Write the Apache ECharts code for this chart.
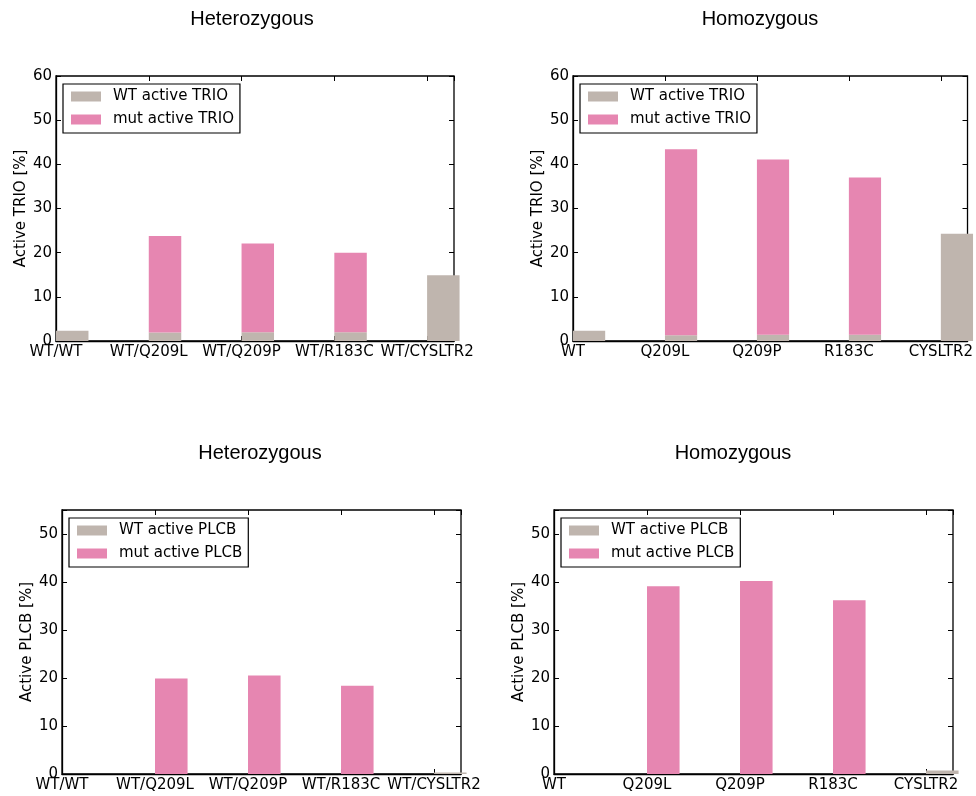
<!DOCTYPE html>
<html>
<head>
<meta charset="utf-8">
<script src="https://cdn.jsdelivr.net/npm/echarts@6/dist/echarts.min.js"></script>
<style>
html, body { margin: 0; padding: 0; background: #fff; }
#chart { width: 976px; height: 796px; }
</style>
</head>
<body>
<div id="chart"></div>
<script>
// ---- data ----
const categoriesHet = ['WT/WT', 'WT/Q209L', 'WT/Q209P', 'WT/R183C', 'WT/CYSLTR2'];
const categoriesHom = ['WT', 'Q209L', 'Q209P', 'R183C', 'CYSLTR2'];

const trioHetWT  = [2.3, 1.9, 2.0, 2.0, 14.9];
const trioHetMut = [0, 21.9, 20.1, 18.0, 0];
const trioHomWT  = [2.3, 1.3, 1.4, 1.4, 24.3];
const trioHomMut = [0, 42.1, 39.7, 35.6, 0];

const plcbHetWT  = [0, 0, 0, 0, 0.3];
const plcbHetMut = [0, 19.9, 20.5, 18.4, 0];
const plcbHomWT  = [0, 0, 0, 0, 0.75];
const plcbHomMut = [0, 39.1, 40.2, 36.2, 0];

const trioNames = ['WT active TRIO', 'mut active TRIO'];
const plcbNames = ['WT active PLCB', 'mut active PLCB'];
const titles = ['Heterozygous', 'Homozygous', 'Heterozygous', 'Homozygous'];
const yNames = ['Active TRIO [%]', 'Active TRIO [%]', 'Active PLCB [%]', 'Active PLCB [%]'];
const yTicksTop = [0, 10, 20, 30, 40, 50, 60];
const yTicksBottom = [0, 10, 20, 30, 40, 50];

// ---- styling / layout ----
const GRAY = '#bfb5ae';
const PINK = '#e686b1';
const FONT = 'DejaVu Sans';
const BAR_W = 0.35;      // bar width in category units
const X_MAX = 4.29;

const panels = [
  { cats: categoriesHet, wt: trioHetWT, mut: trioHetMut, names: trioNames, yMax: 60, yTicks: yTicksTop,
    grid: { left: 56, top: 76, width: 398, height: 265 }, titlePos: [252, 19] },
  { cats: categoriesHom, wt: trioHomWT, mut: trioHomMut, names: trioNames, yMax: 60, yTicks: yTicksTop,
    grid: { left: 573, top: 76, width: 399, height: 265 }, titlePos: [760, 19] },
  { cats: categoriesHet, wt: plcbHetWT, mut: plcbHetMut, names: plcbNames, yMax: 55, yTicks: yTicksBottom,
    grid: { left: 62, top: 510, width: 399, height: 264 }, titlePos: [260, 453] },
  { cats: categoriesHom, wt: plcbHomWT, mut: plcbHomMut, names: plcbNames, yMax: 55, yTicks: yTicksBottom,
    grid: { left: 554, top: 510, width: 399, height: 264 }, titlePos: [733, 453] }
];

const option = {
  backgroundColor: '#fff',
  animation: false,
  grid: [], xAxis: [], yAxis: [], series: [], legend: [], graphic: []
};

const mkTick = () => ({ show: true, inside: true, length: 5, lineStyle: { color: '#000', width: 1 } });

panels.forEach((p, i) => {
  option.grid.push(Object.assign({
    show: true, borderColor: '#000', borderWidth: 1.3, backgroundColor: 'transparent'
  }, p.grid));

  const cats = p.cats;
  option.xAxis.push({
    type: 'value', gridIndex: i, min: 0, max: X_MAX, interval: 1, position: 'bottom',
    axisLine: { show: true, onZero: false, lineStyle: { color: '#000', width: 1.3 } },
    axisTick: mkTick(), splitLine: { show: false },
    axisLabel: {
      show: true, margin: 4, color: '#000', fontSize: 15, fontFamily: FONT,
      showMaxLabel: false,
      formatter: v => { const r = Math.round(v); return Math.abs(v - r) < 1e-6 && cats[r] !== undefined ? cats[r] : ''; }
    }
  });
  option.xAxis.push({
    type: 'value', gridIndex: i, min: 0, max: X_MAX, interval: 1, position: 'top',
    axisLine: { show: false, onZero: false }, axisTick: mkTick(), splitLine: { show: false }, axisLabel: { show: false }
  });
  const yt = p.yTicks;
  option.yAxis.push({
    type: 'value', gridIndex: i, min: 0, max: p.yMax, interval: 10, position: 'left',
    name: yNames[i], nameLocation: 'middle', nameGap: 27,
    nameTextStyle: { color: '#000', fontSize: 15, fontFamily: FONT },
    axisLine: { show: true, onZero: false, lineStyle: { color: '#000', width: 1.3 } },
    axisTick: mkTick(), splitLine: { show: false },
    axisLabel: {
      show: true, margin: 4, color: '#000', fontSize: 15, fontFamily: FONT,
      formatter: v => (yt.indexOf(v) >= 0 ? String(v) : '')
    }
  });
  option.yAxis.push({
    type: 'value', gridIndex: i, min: 0, max: p.yMax, interval: 10, position: 'right',
    axisLine: { show: false, onZero: false }, axisTick: mkTick(), splitLine: { show: false }, axisLabel: { show: false }
  });

  // value first, position second: so the value dimension is the stacked one
  const toData = arr => arr.map((v, k) => [v, k + BAR_W / 2]);
  option.series.push({
    type: 'bar', name: p.names[0], xAxisIndex: 2 * i, yAxisIndex: 2 * i, stack: 'p' + i,
    encode: { x: 1, y: 0 },
    barWidth: (BAR_W * 100) + '%', data: toData(p.wt),
    itemStyle: { color: GRAY }
  });
  option.series.push({
    type: 'bar', name: p.names[1], xAxisIndex: 2 * i, yAxisIndex: 2 * i, stack: 'p' + i,
    encode: { x: 1, y: 0 },
    barWidth: (BAR_W * 100) + '%', data: toData(p.mut),
    itemStyle: { color: PINK }
  });

  option.legend.push({
    data: p.names, orient: 'vertical', left: p.grid.left + 7, top: p.grid.top + 8,
    itemWidth: 30, itemHeight: 10, icon: 'rect', itemGap: 8,
    padding: [5, 6, 6, 8], borderColor: '#000', borderWidth: 1.2, backgroundColor: '#fff',
    selectedMode: false,
    textStyle: { color: '#000', fontSize: 15, fontFamily: FONT, padding: [0, 0, 0, 7] }
  });

  option.graphic.push({
    type: 'text', x: p.titlePos[0], y: p.titlePos[1],
    style: { text: titles[i], fill: '#000', font: '20px "Liberation Sans", Arial, sans-serif',
             textAlign: 'center', textVerticalAlign: 'middle' }
  });
});

const chart = echarts.init(document.getElementById('chart'), null, { renderer: 'canvas' });
chart.setOption(option);
</script>
</body>
</html>
